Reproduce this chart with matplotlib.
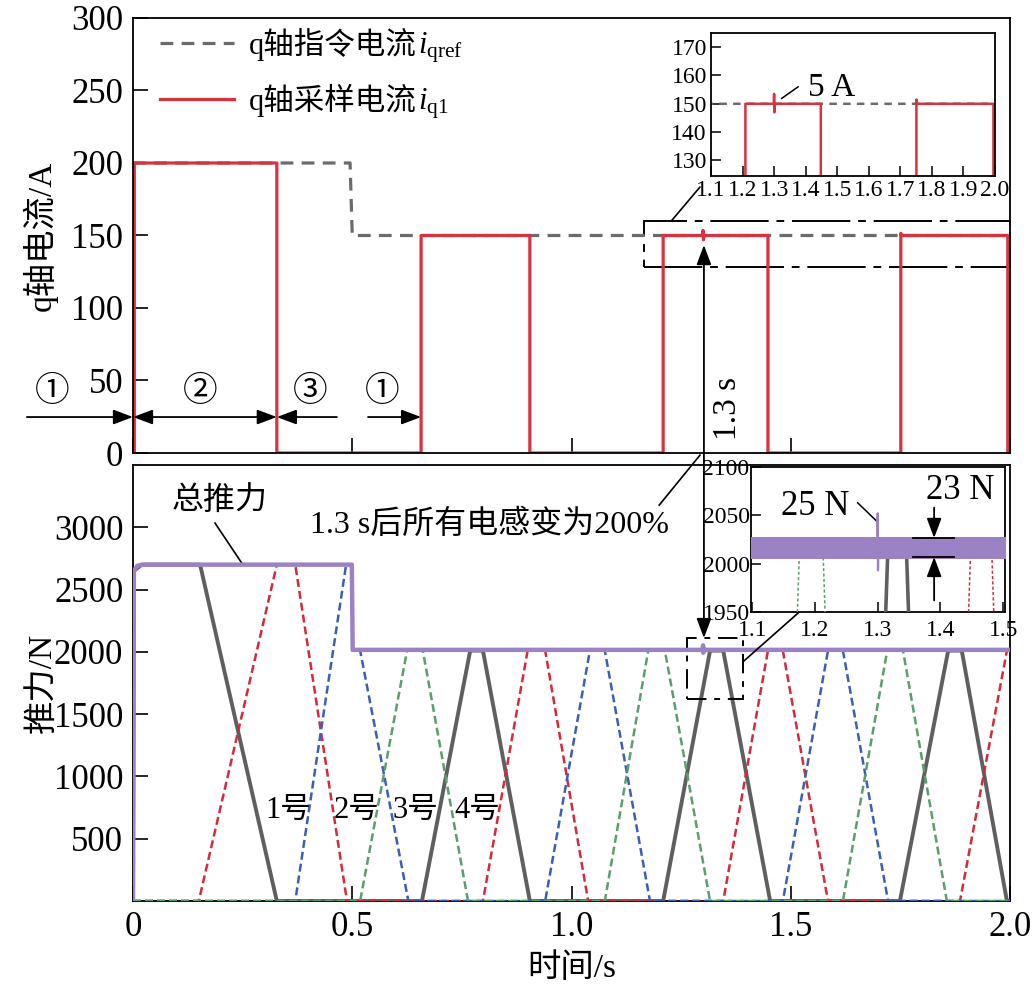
import matplotlib
matplotlib.use('Agg')
import matplotlib.pyplot as plt
from matplotlib.patches import Rectangle, ConnectionPatch
from matplotlib.transforms import IdentityTransform

plt.rcParams['font.family'] = ['Liberation Serif', 'Noto Sans CJK SC']
plt.rcParams['mathtext.fontset'] = 'custom'
plt.rcParams['mathtext.rm'] = 'Liberation Serif'
plt.rcParams['mathtext.it'] = 'Liberation Serif:italic'
plt.rcParams['axes.linewidth'] = 1.3

# ---------------- data ----------------
# q-axis reference current (A)
ref_t = [0.0, 0.495, 0.500, 2.0]
ref_v = [200, 200, 150, 150]
# q-axis sampled current of unit 1 (A)
iq_t = [0.0, 0.003, 0.003, 0.328, 0.328, 0.657, 0.657, 0.905, 0.905, 1.209, 1.209,
        1.299, 1.300, 1.301, 1.302, 1.448, 1.448, 1.751, 1.751, 1.753, 1.995, 1.995]
iq_v = [0, 0, 200, 200, 0, 0, 150, 150, 0, 0, 150,
        150, 153.5, 147, 150, 150, 0, 0, 151.5, 150, 150, 0]

# total thrust (N)
tot_t = [0.0, 0.002, 0.010, 0.020, 0.499, 0.501, 1.2995, 1.300, 1.3005, 1.301, 2.0]
tot_v = [0, 2650, 2690, 2700, 2700, 2016, 2016, 2052, 1993, 2016, 2016]
# thrust ripple band seen in the zoomed view (N)
band_t = [1.09, 1.51]
band_lo = [2005, 2005]
band_hi = [2028, 2028]

# per-unit thrust (N)
u1_t = [0.0, 0.002, 0.020, 0.153, 0.328, 0.659, 0.769, 0.798, 0.905, 1.209, 1.316,
        1.346, 1.453, 1.749, 1.859, 1.890, 1.993, 2.0]
u1_v = [0, 2650, 2700, 2700, 0, 0, 2010, 2010, 0, 0, 2010, 2010, 0, 0, 2010, 2010, 0, 0]
u2_t = [0.0, 0.150, 0.328, 0.370, 0.488, 0.798, 0.900, 0.940, 1.038, 1.346, 1.448,
        1.482, 1.585, 1.886, 1.993, 2.0]
u2_v = [0, 0, 2700, 2700, 0, 0, 2010, 2010, 0, 0, 2010, 2010, 0, 0, 2010, 2010]
u3_t = [0.0, 0.370, 0.486, 0.500, 0.500, 0.518, 0.628, 0.940, 1.042, 1.076, 1.179,
        1.482, 1.585, 1.619, 1.722, 2.0]
u3_v = [0, 0, 2700, 2700, 2010, 2010, 0, 0, 2010, 2010, 0, 0, 2010, 2010, 0, 0]
u4_t = [0.0, 0.518, 0.625, 0.661, 0.764, 1.076, 1.175, 1.213, 1.316, 1.619, 1.720,
        1.756, 1.856, 2.0]
u4_v = [0, 0, 2010, 2010, 0, 0, 2010, 2010, 0, 0, 2010, 2010, 0, 0]

x_ticks = [0, 0.5, 1.0, 1.5, 2.0]
x_ticklabels = ['0', '0.5', '1.0', '1.5', '2.0']
top_yticks = [0, 50, 100, 150, 200, 250, 300]
bot_yticks = [500, 1000, 1500, 2000, 2500, 3000]
in1_xticks = [1.1, 1.2, 1.3, 1.4, 1.5, 1.6, 1.7, 1.8, 1.9, 2.0]
in1_yticks = [130, 140, 150, 160, 170]
in2_xticks = [1.1, 1.2, 1.3, 1.4, 1.5]
in2_yticks = [1950, 2000, 2050, 2100]

# ---------------- styles ----------------
C_RED = '#d8323f'
C_REF = '#6b6b6b'
C_PUR = '#9b82c4'
C_U1 = '#5f5f5f'
C_U2 = '#d42a3a'
C_U3 = '#3b5fb5'
C_U4 = '#5a9e6e'
DASH = (0, (3.2, 1.6))

W, H = 1036, 996
fig = plt.figure(figsize=(W / 100, H / 100), dpi=100)


def box(l, t, r, b):
    return [l / W, 1 - b / H, (r - l) / W, (b - t) / H]


ax1 = fig.add_axes(box(133, 18, 1010, 453))
ax2 = fig.add_axes(box(133, 465, 1010, 901))

for ax in (ax1, ax2):
    ax.tick_params(direction='in', length=11, width=1.2, labelsize=25, pad=7)
    ax.set_xlim(0, 2.0)
    ax.set_xticks(x_ticks)

# ---------- top: q-axis current ----------
h_ref, = ax1.plot(ref_t, ref_v, color=C_REF, lw=2.3, ls=(0, (4, 2.6)))
h_iq, = ax1.plot(iq_t, iq_v, color=C_RED, lw=2.3)
ax1.set_ylim(0, 300)
ax1.set_yticks(top_yticks)
ax1.set_xticklabels([])
ax1.set_ylabel('q轴电流/A', fontsize=24)
ax1.yaxis.set_label_coords(-0.0855, 0.5)

leg = ax1.legend([h_ref, h_iq], ['q轴指令电流', 'q轴采样电流'], loc='upper left',
                 bbox_to_anchor=(0.031, 0.978), frameon=False, fontsize=22,
                 handlelength=2.4, handletextpad=0.5, labelspacing=0.75,
                 borderpad=0, borderaxespad=0)

# phase arrows
ap1 = dict(arrowstyle='-|>,head_length=0.8,head_width=0.3', color='k', lw=1.3,
           mutation_scale=15, shrinkA=0, shrinkB=0)
ap2 = dict(arrowstyle='<|-|>,head_length=0.8,head_width=0.3', color='k', lw=1.3,
           mutation_scale=15, shrinkA=0, shrinkB=0)
ya = 24.8
ax1.annotate('', xy=(0, ya), xytext=(-0.242, ya), arrowprops=ap1, annotation_clip=False)
ax1.annotate('', xy=(0.328, ya), xytext=(0.0, ya), arrowprops=ap2, annotation_clip=False)
ax1.annotate('', xy=(0.328, ya), xytext=(0.465, ya), arrowprops=ap1, annotation_clip=False)
ax1.annotate('', xy=(0.657, ya), xytext=(0.536, ya), arrowprops=ap1, annotation_clip=False)
yl = 42
for xx, s in [(-0.185, '①'), (0.153, '②'), (0.404, '③'), (0.568, '①')]:
    ax1.text(xx, yl, s, fontsize=25, ha='center', va='center')

ax1.text(1.357, 31, '1.3 s', fontsize=24, rotation=90, ha='center', va='center')

# dash-dot zoom rectangle in top axes
ax1.add_patch(Rectangle((1.165, 128.3), 2.0 - 1.165, 160 - 128.3, fill=False,
                        ec='k', lw=1.4, ls=(0, (30, 4, 4, 4)), clip_on=False))

# ---------- bottom: thrust ----------
ax2.plot(u1_t, u1_v, color=C_U1, lw=2.8, zorder=3)
ax2.plot(u2_t, u2_v, color=C_U2, lw=1.8, ls=DASH, zorder=3)
ax2.plot(u3_t, u3_v, color=C_U3, lw=1.8, ls=DASH, zorder=3)
ax2.plot(u4_t, u4_v, color=C_U4, lw=1.8, ls=DASH, zorder=3)
ax2.plot(tot_t, tot_v, color=C_PUR, lw=3.2, zorder=4)
ax2.set_ylim(0, 3500)
ax2.set_yticks(bot_yticks)
ax2.set_xticklabels(x_ticklabels)
ax2.set_ylabel('推力/N', fontsize=24)
ax2.yaxis.set_label_coords(-0.0855, 0.5)
ax2.set_xlabel('时间/s', fontsize=24)
ax2.xaxis.set_label_coords(0.5, -0.119)

ax2.text(0.198, 3202, '总推力', fontsize=23, ha='center', va='center')
ax2.plot([0.187, 0.251], [3034, 2697], color='k', lw=1.2)
ax2.text(0.814, 3018, '1.3 s后所有电感变为200%', fontsize=23, ha='center', va='center')
ax2.plot([1.2, 1.293], [3178, 3579], color='k', lw=1.2, clip_on=False)
for xx, s in [(0.353, '1号'), (0.509, '2号'), (0.643, '3号'), (0.785, '4号')]:
    ax2.text(xx, 730, s, fontsize=22, ha='center', va='center')

ax2.add_patch(Rectangle((1.263, 1621), 1.391 - 1.263, 2111 - 1621, fill=False,
                        ec='k', lw=1.4, ls=(0, (10, 4, 3, 4)), zorder=5))

# ---------- inset 1 (top) ----------
axi1 = fig.add_axes(box(711, 33, 995, 176))
axi1.plot(ref_t, ref_v, color=C_REF, lw=1.8, ls=(0, (3, 2.5)))
axi1.plot(iq_t, iq_v, color=C_RED, lw=1.8)
axi1.set_xlim(1.1, 2.0)
axi1.set_ylim(124.5, 175)
axi1.set_xticks(in1_xticks)
axi1.set_xticklabels([f'{v:.1f}' for v in in1_xticks])
axi1.set_yticks(in1_yticks)
axi1.tick_params(direction='in', length=7, width=1.1, labelsize=17, pad=3)
axi1.plot([1.324, 1.376], [151.9, 156], color='k', lw=1.1)
axi1.text(1.483, 155.5, '5 A', fontsize=24, ha='center', va='center')

# ---------- inset 2 (bottom) ----------
axi2 = fig.add_axes(box(751, 467, 1005, 612))
axi2.fill_between(band_t, band_lo, band_hi, color=C_PUR, lw=0, zorder=4)
axi2.plot(u1_t, u1_v, color=C_U1, lw=2.6, zorder=3)
axi2.plot(u2_t, u2_v, color=C_U2, lw=1.1, ls=(0, (2, 1.5)), zorder=3)
axi2.plot(u3_t, u3_v, color=C_U3, lw=1.1, ls=(0, (2, 1.5)), zorder=3)
axi2.plot(u4_t, u4_v, color=C_U4, lw=1.1, ls=(0, (2, 1.5)), zorder=3)
axi2.plot(tot_t, tot_v, color=C_PUR, lw=1.6, zorder=4)
axi2.set_xlim(1.098, 1.503)
axi2.set_ylim(1950, 2100)
axi2.set_xticks(in2_xticks)
axi2.set_yticks(in2_yticks)
axi2.tick_params(direction='in', length=7, width=1.1, labelsize=17, pad=1)
axi2.tick_params(axis='x', pad=6)

axi2.plot([1.356, 1.422], [2026.6, 2026.6], color='k', lw=1.3, zorder=6)
axi2.plot([1.356, 1.422], [2006.9, 2006.9], color='k', lw=1.3, zorder=6)
axi2.annotate('', xy=(1.39, 2026.6), xytext=(1.39, 2058), arrowprops=ap1, zorder=6)
axi2.annotate('', xy=(1.39, 2006.9), xytext=(1.39, 1962), arrowprops=ap1, zorder=6)
axi2.text(1.431, 2076, '23 N', fontsize=25, ha='center', va='center')
axi2.text(1.2, 2059, '25 N', fontsize=25, ha='center', va='center')
axi2.plot([1.268, 1.3], [2063, 2043], color='k', lw=1.1)

# ---------- connectors ----------
fig.add_artist(ConnectionPatch(xyA=(1.229, 160.5), coordsA=ax1.transData,
                               xyB=(1.065, 120.6), coordsB=axi1.transData,
                               color='k', lw=1.2))
fig.add_artist(ConnectionPatch(xyA=(1.391, 1920), coordsA=ax2.transData,
                               xyB=(1.175, 1950), coordsB=axi2.transData,
                               color='k', lw=1.2))
fig.add_artist(ConnectionPatch(xyA=(1.302, 143.4), coordsA=ax1.transData,
                               xyB=(1.302, 2111), coordsB=ax2.transData,
                               arrowstyle='<|-|>,head_length=0.8,head_width=0.3',
                               mutation_scale=15, color='k', lw=1.3,
                               shrinkA=0, shrinkB=0))

# ---------- legend math parts ----------
fig.canvas.draw()
r = fig.canvas.get_renderer()
for t, m in zip(leg.get_texts(), [r'$i_{\mathrm{qref}}$', r'$i_{\mathrm{q1}}$']):
    bb = t.get_window_extent(r)
    fp = t.get_fontproperties()
    _, _, d1 = r.get_text_width_height_descent(t.get_text(), fp, ismath=False)
    _, _, d2 = r.get_text_width_height_descent('lp', fp, ismath=False)
    base = bb.y0 + max(d1, d2)
    fig.text(bb.x1 + 1, base, m, fontsize=22, ha='left', va='baseline',
             transform=IdentityTransform())

fig.savefig('out.png', dpi=100)
